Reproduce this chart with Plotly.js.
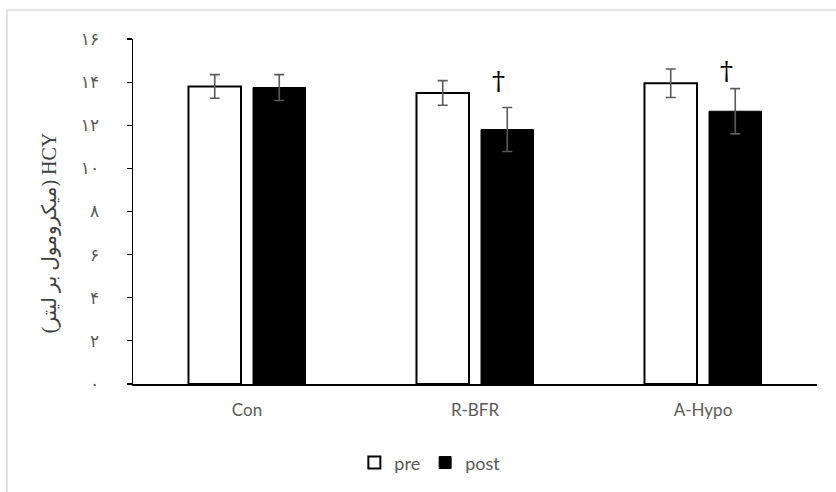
<!DOCTYPE html>
<html>
<head>
<meta charset="utf-8">
<script src="https://cdn.plot.ly/plotly-3.0.1.min.js"></script>
<style>html,body{margin:0;padding:0;background:#fff;}#chart{width:836px;height:492px;}</style>
</head>
<body>
<div id="chart"></div>
<script>
const groups = ['Con', 'R-BFR', 'A-Hypo'];
const preMean = [13.8, 13.5, 13.95];
const preSD = [0.55, 0.57, 0.66];
const postMean = [13.75, 11.8, 12.65];
const postSD = [0.6, 1.02, 1.05];
const daggerLabel = ['', '†', '†'];
const daggerLevel = [null, 14.05, 14.5];
const yTickVals = [0, 2, 4, 6, 8, 10, 12, 14, 16];
const yTickText = ['۰', '۲', '۴', '۶', '۸', '۱۰', '۱۲', '۱۴', '۱۶'];
const yTitle = '(میکرومول بر لیتر) HCY';

const errStyle = {type: 'data', visible: true, color: '#5a5a5a', thickness: 1.6, width: 5};

const traces = [
  {type: 'bar', name: 'pre', x: groups, y: preMean,
   error_y: Object.assign({array: preSD}, errStyle),
   marker: {color: '#ffffff', line: {color: '#000000', width: 2}}},
  {type: 'bar', name: 'post', x: groups, y: postMean,
   error_y: Object.assign({array: postSD}, errStyle),
   marker: {color: '#000000', line: {color: '#000000', width: 1}}}
];

const annotations = [];
groups.forEach((g, i) => {
  if (daggerLabel[i]) {
    annotations.push({x: g, y: daggerLevel[i], xref: 'x', yref: 'y', text: daggerLabel[i],
      showarrow: false, xshift: 23, yanchor: 'middle',
      font: {family: 'DejaVu Serif, Liberation Serif, serif', size: 26, color: '#000'}});
  }
});
annotations.push({x: -0.122, y: 0.436, xref: 'paper', yref: 'paper', text: yTitle,
  textangle: -90, showarrow: false, xanchor: 'center', yanchor: 'middle',
  font: {family: 'Liberation Serif, DejaVu Sans, serif', size: 20, color: '#404040'}});

const layout = {
  width: 836, height: 492,
  margin: {l: 133, r: 19, t: 39, b: 107},
  paper_bgcolor: '#ffffff', plot_bgcolor: '#ffffff',
  barmode: 'group', bargap: 0.434, bargroupgap: 0.186,
  showlegend: true,
  legend: {orientation: 'h', x: 0.434, xanchor: 'center', y: -0.225, yanchor: 'middle',
    font: {family: 'Lato, Open Sans, sans-serif', size: 18, color: '#595959'},
    itemwidth: 30, traceorder: 'normal'},
  xaxis: {showline: true, linecolor: '#000', linewidth: 1.5, ticks: '', showgrid: false,
    ticklabelstandoff: 10,
    tickfont: {family: 'Lato, Open Sans, sans-serif', size: 17, color: '#595959'},
    zeroline: false},
  yaxis: {range: [0, 16], tickvals: yTickVals, ticktext: yTickText, showline: true,
    linecolor: '#000', linewidth: 1.5, ticks: 'outside', ticklen: 5, tickwidth: 1.2, tickcolor: '#000',
    showgrid: false, zeroline: false, ticklabelstandoff: 24,
    tickfont: {family: 'DejaVu Sans, sans-serif', size: 17, color: '#595959'}},
  annotations: annotations,
  shapes: [
    {type: 'line', xref: 'paper', yref: 'paper', x0: -0.1842, x1: 1.2, y0: 1.0838, y1: 1.0838,
     line: {color: '#d9d9d9', width: 1.5}, layer: 'below'},
    {type: 'line', xref: 'paper', yref: 'paper', x0: -0.1842, x1: -0.1842, y0: -0.4, y1: 1.0838,
     line: {color: '#d9d9d9', width: 1.5}, layer: 'below'}
  ]
};

Plotly.newPlot('chart', traces, layout, {displayModeBar: false, staticPlot: true});
</script>
</body>
</html>
